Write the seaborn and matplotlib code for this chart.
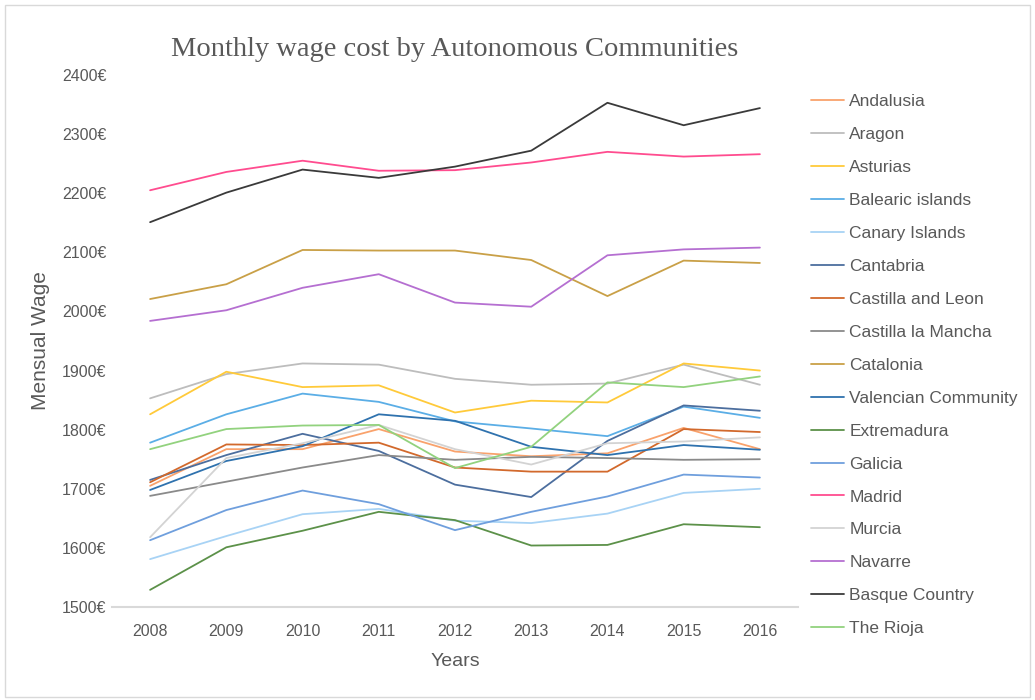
import matplotlib
matplotlib.use("Agg")
import matplotlib.pyplot as plt
from matplotlib.patches import Rectangle
import pandas as pd
import seaborn as sns

years = ["2008", "2009", "2010", "2011", "2012", "2013", "2014", "2015", "2016"]

regions = [
    "Andalusia", "Aragon", "Asturias", "Balearic islands", "Canary Islands",
    "Cantabria", "Castilla and Leon", "Castilla la Mancha", "Catalonia",
    "Valencian Community", "Extremadura", "Galicia", "Madrid", "Murcia",
    "Navarre", "Basque Country", "The Rioja",
]

andalusia = [1705, 1767, 1767, 1801, 1763, 1755, 1760, 1803, 1767]
aragon = [1853, 1894, 1912, 1910, 1886, 1876, 1878, 1910, 1876]
asturias = [1826, 1898, 1872, 1875, 1829, 1849, 1846, 1912, 1900]
balearic = [1778, 1826, 1861, 1847, 1814, 1802, 1789, 1839, 1820]
canary = [1581, 1620, 1657, 1666, 1646, 1642, 1658, 1693, 1700]
cantabria = [1715, 1757, 1793, 1764, 1707, 1686, 1781, 1841, 1832]
castilla_leon = [1711, 1775, 1774, 1778, 1736, 1729, 1729, 1801, 1796]
castilla_mancha = [1688, 1712, 1736, 1757, 1749, 1754, 1752, 1749, 1750]
catalonia = [2021, 2046, 2104, 2103, 2103, 2087, 2026, 2086, 2082]
valencian = [1698, 1747, 1772, 1826, 1815, 1771, 1757, 1774, 1766]
extremadura = [1529, 1601, 1629, 1661, 1647, 1604, 1605, 1640, 1635]
galicia = [1613, 1664, 1697, 1674, 1630, 1661, 1687, 1724, 1719]
madrid = [2205, 2236, 2255, 2238, 2239, 2252, 2270, 2262, 2266]
murcia = [1618, 1752, 1777, 1808, 1767, 1741, 1777, 1780, 1787]
navarre = [1984, 2002, 2040, 2063, 2015, 2008, 2095, 2105, 2108]
basque = [2151, 2201, 2240, 2226, 2245, 2272, 2353, 2315, 2344]
rioja = [1767, 1801, 1807, 1808, 1735, 1771, 1880, 1872, 1890]

series = [andalusia, aragon, asturias, balearic, canary, cantabria,
          castilla_leon, castilla_mancha, catalonia, valencian, extremadura,
          galicia, madrid, murcia, navarre, basque, rioja]

colors = [
    "#F9A26C", "#BDBDBD", "#FFCA3A", "#5BAEE6", "#A8D3F5", "#4C6E9E",
    "#D2692C", "#8A8A8A", "#C9A047", "#2F72AE", "#5C9149", "#6F9FDD",
    "#FF4C8F", "#D3D3D3", "#B56FD1", "#3A3A3A", "#92D27E",
]

y_ticks = [1500, 1600, 1700, 1800, 1900, 2000, 2100, 2200, 2300, 2400]
y_tick_labels = [f"{v}€" for v in y_ticks]

rows = []
for name, vals in zip(regions, series):
    for yr, v in zip(years, vals):
        rows.append({"Year": yr, "Wage": v, "Region": name})
df = pd.DataFrame(rows)

sns.set_theme(style="white")
plt.rcParams["font.family"] = ["Liberation Sans", "DejaVu Sans"]

fig = plt.figure(figsize=(10.35, 7.0), dpi=100)
ax = fig.add_axes([112 / 1035, 1 - 607 / 700, (798 - 112) / 1035, (607 - 75) / 700])

sns.lineplot(data=df, x="Year", y="Wage", hue="Region", hue_order=regions,
             palette=dict(zip(regions, colors)), linewidth=1.3, ax=ax,
             sort=False)

tick_font = ["Liberation Sans Narrow", "Liberation Sans", "DejaVu Sans"]
ax.set_xlim(-0.5, len(years) - 0.5)
ax.set_ylim(1500, 2400)
ax.set_yticks(y_ticks)
ax.set_yticklabels(y_tick_labels, fontsize=11.5, color="#595959", family=tick_font)
ax.set_xticks(range(len(years)))
ax.set_xticklabels(years, fontsize=11.5, color="#595959", family=tick_font)
ax.tick_params(axis="both", length=0)
ax.tick_params(axis="y", pad=4)
ax.tick_params(axis="x", pad=12)

for side in ("top", "right", "left"):
    ax.spines[side].set_visible(False)
ax.spines["bottom"].set_color("#D9D9D9")
ax.spines["bottom"].set_linewidth(1.5)
ax.grid(False)

ax.set_xlabel("Years", fontsize=14, color="#595959", labelpad=10)
ax.set_ylabel("Mensual Wage", fontsize=15, color="#595959")
ax.yaxis.set_label_coords((50 - 112) / 686, 0.5)

fig.text(455 / 1035, 1 - 49 / 700, "Monthly wage cost by Autonomous Communities",
         ha="center", va="center", fontsize=20.5, color="#595959",
         family=["Liberation Serif", "DejaVu Serif"])

handles, labels = ax.get_legend_handles_labels()
ax.legend(handles, labels, loc="upper left",
          bbox_to_anchor=(811 / 1035, 1 - 94 / 700),
          bbox_transform=fig.transFigure, frameon=False,
          fontsize=12.5, labelcolor="#595959", handlelength=1.9,
          handletextpad=0.3, labelspacing=1.025, borderpad=0, borderaxespad=0)

fig.add_artist(Rectangle((5 / 1035, 3 / 700), 1025 / 1035, 692 / 700,
                         transform=fig.transFigure, fill=False,
                         edgecolor="#D9D9D9", linewidth=1.0))

fig.savefig("out.png", dpi=100)
